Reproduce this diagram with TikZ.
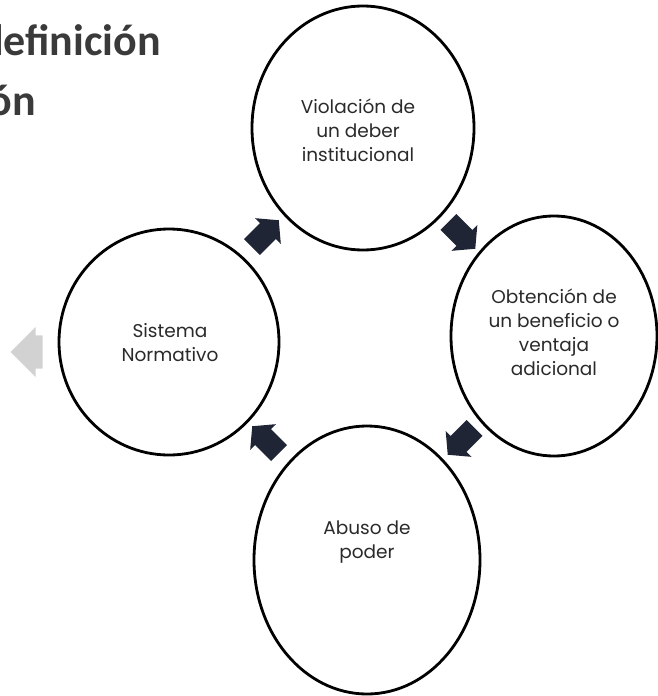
\documentclass[tikz,border=0pt]{standalone}
\usepackage{fontspec}
\setmainfont{Poppins}
\newfontfamily\titlefont{Carlito}
\usetikzlibrary{shapes.geometric,shapes.arrows,calc}
\definecolor{titlegray}{HTML}{3A3A3A}
\definecolor{txtgray}{HTML}{2A2A2A}
\definecolor{arrowdark}{HTML}{1F2535}
\definecolor{arrowlight}{HTML}{D2D2D2}
\begin{document}
\begin{tikzpicture}[x=1pt,y=-1pt,
  bubble/.style={ellipse,draw=black,line width=2.8pt,fill=white,inner sep=0pt},
  bubbletext/.style={align=center,text=txtgray,font=\fontsize{18.5}{24}\selectfont},
  cyclearrow/.style={single arrow,fill=arrowdark,draw=none,minimum height=38pt,minimum width=36pt,inner xsep=0pt,inner ysep=11pt,single arrow tip angle=100},
  titletext/.style={text=titlegray,font=\titlefont\bfseries\fontsize{44}{50}\selectfont,inner sep=0pt}]
\useasboundingbox (0,0) rectangle (658,696);
\clip (0,0) rectangle (658,696);
% title fragments
\node[titletext,anchor=base east] (t1) at (161,55) {definición};
\node[titletext,anchor=base east] (t2) at (36,115) {ón};
% circles
\node[bubble,minimum width=222pt,minimum height=244pt] (top) at (363,128) {};
\node[bubble,minimum width=206pt,minimum height=240pt] (right) at (554,336) {};
\node[bubble,minimum width=220pt,minimum height=226pt] (left) at (169,342) {};
\node[bubble,minimum width=226pt,minimum height=268pt] (bottom) at (367,560) {};
% texts
\node[bubbletext] (toptext) at (358,130) {Violación de\\un deber\\institucional};
\node[bubbletext] (righttext) at (554,332) {Obtención de\\un beneficio o\\ventaja\\adicional};
\node[bubbletext] (lefttext) at (170,343) {Sistema\\Normativo};
\node[bubbletext] (bottomtext) at (367,542) {Abuso de\\poder};
% cycle arrows
\node[cyclearrow,rotate=-45] (a1) at ($(top)!0.5!(right)$) {};
\node[cyclearrow,rotate=-135] (a2) at ($(right)!0.5!(bottom)+(4,-10)$) {};
\node[cyclearrow,rotate=135] (a3) at ($(bottom)!0.5!(left)+(1,-8)$) {};
\node[cyclearrow,rotate=45] (a4) at ($(left)!0.5!(top)+(-4,2)$) {};
% grey arrow on the left
\node[single arrow,fill=arrowlight,draw=none,minimum height=32pt,minimum width=50pt,inner xsep=0pt,inner ysep=14pt,rotate=180] (ga) at (35,352) {};
\end{tikzpicture}
\end{document}
